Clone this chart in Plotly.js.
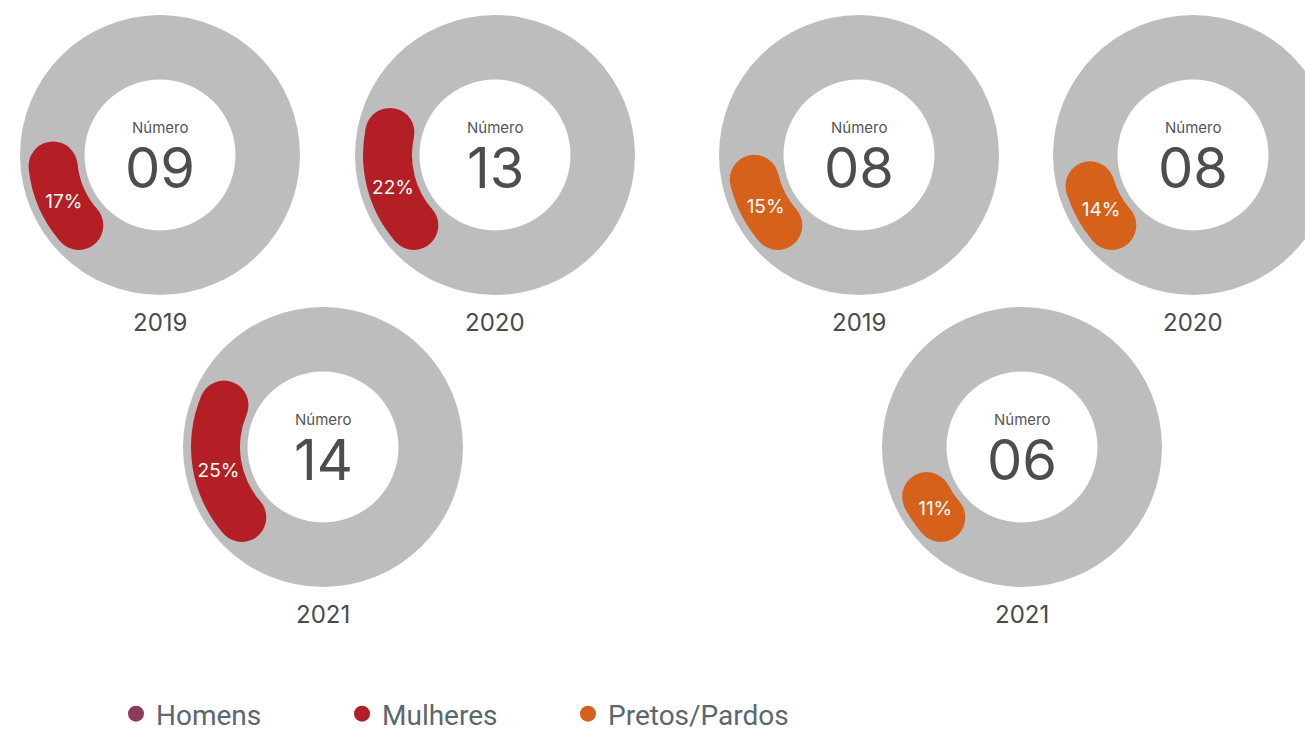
<!DOCTYPE html>
<html>
<head>
<meta charset="utf-8">
<script src="https://cdn.plot.ly/plotly-3.0.1.min.js"></script>
<style>
  html, body { margin: 0; padding: 0; background: #fff; overflow: hidden; }
  #chart { width: 1340px; height: 760px; }
</style>
</head>
<body>
<div id="chart"></div>
<script>
// Data
const years = ['2019', '2020', '2021'];
const mulheresPct = [17, 22, 25];
const mulheresNum = ['09', '13', '14'];
const pretosPct = [15, 14, 11];
const pretosNum = ['08', '08', '06'];
const legendNames = ['Homens', 'Mulheres', 'Pretos/Pardos'];
const legendColors = ['#8b3a5e', '#b31f25', '#d5611b'];

// Geometry (px). The figure is a bit larger than the window and gets cropped,
// so the right-hand donut can run off the edge and the legend doesn't push margins.
const W = 1340, H = 760;
const OUTER = 140, HOLE = 75.5;
const BAND_IN = 83, BAND_OUT = 132;
const BAND_MID = (BAND_IN + BAND_OUT) / 2;
const CAP_DEG = ((BAND_OUT - BAND_IN) / 2 / BAND_MID) * 180 / Math.PI;
const ARC_END = 216;   // where every coloured arc stops (clockwise from 12 o'clock)
const GRAY = '#bdbdbd';

const centers = [[160, 155], [495, 155], [323, 447], [859, 155], [1193, 155], [1022, 447]];
const legendX = [136, 362, 588];

const donuts = [];
years.forEach((y, i) => donuts.push({ year: y, pct: mulheresPct[i], num: mulheresNum[i], color: legendColors[1] }));
years.forEach((y, i) => donuts.push({ year: y, pct: pretosPct[i], num: pretosNum[i], color: legendColors[2] }));

const traces = [];
const layout = {
    width: W,
    height: H,
    margin: { l: 0, r: 0, t: 0, b: 0 },
    paper_bgcolor: '#fff',
    showlegend: true,
    annotations: []
};

// one legend per entry so each sits at its own spot
legendNames.forEach((name, i) => {
    const key = i === 0 ? 'legend' : 'legend' + (i + 1);
    layout[key] = {
        orientation: 'h',
        x: (legendX[i] - 20) / W,
        xanchor: 'left',
        y: 1 - 714 / H,
        yanchor: 'middle',
        font: { family: 'Roboto, sans-serif', size: 28, color: '#5b6770' },
        bgcolor: 'rgba(0,0,0,0)'
    };
});

function label(cx, y, text, size, color) {
    return {
        x: cx / W, y: 1 - y / H, xref: 'paper', yref: 'paper',
        xanchor: 'center', yanchor: 'middle',
        text: text, showarrow: false,
        font: { family: 'Inter, sans-serif', size: size, color: color }
    };
}

donuts.forEach((d, k) => {
    const [cx, cy] = centers[k];
    const pid = k === 0 ? 'polar' : 'polar' + (k + 1);
    const span = d.pct / 100 * 360;

    layout[pid] = {
        domain: {
            x: [(cx - OUTER) / W, (cx + OUTER) / W],
            y: [1 - (cy + OUTER) / H, 1 - (cy - OUTER) / H]
        },
        hole: HOLE / OUTER,
        bgcolor: GRAY,
        radialaxis: { range: [HOLE, OUTER], visible: false },
        angularaxis: { rotation: 90, direction: 'clockwise', visible: false }
    };

    // coloured band
    traces.push({
        type: 'barpolar',
        subplot: pid,
        r: [BAND_OUT - BAND_IN],
        base: [BAND_IN],
        theta: [ARC_END + span / 2],
        width: [span - 2 * CAP_DEG],
        marker: { color: d.color, line: { width: 0 } },
        showlegend: false,
        hoverinfo: 'skip'
    });
    // round caps
    traces.push({
        type: 'scatterpolar',
        subplot: pid,
        mode: 'markers',
        r: [BAND_MID, BAND_MID],
        theta: [ARC_END + CAP_DEG, ARC_END + span - CAP_DEG],
        marker: { color: d.color, size: BAND_OUT - BAND_IN, line: { width: 0 } },
        showlegend: false,
        hoverinfo: 'skip'
    });
    // percent label
    traces.push({
        type: 'scatterpolar',
        subplot: pid,
        mode: 'text',
        r: [BAND_MID],
        theta: [ARC_END + span * 0.45],
        text: [d.pct + '%'],
        textfont: { family: 'Inter, sans-serif', size: 19, color: '#fff' },
        showlegend: false,
        hoverinfo: 'skip'
    });

    const dy = cy - 155;
    layout.annotations.push(
        label(cx, 127 + dy, 'Número', 15, '#555'),
        label(cx, 168 + dy, d.num, 56, '#4d4d4d'),
        label(cx, 322 + dy, d.year, 24, '#4a4a4a')
    );
});

// legend entries
legendNames.forEach((name, i) => {
    traces.push({
        type: 'scatterpolar',
        subplot: 'polar',
        mode: 'markers',
        r: [null],
        theta: [null],
        name: name,
        legend: i === 0 ? 'legend' : 'legend' + (i + 1),
        marker: { color: legendColors[i], size: 22 },
        showlegend: true,
        hoverinfo: 'skip'
    });
});

Plotly.newPlot('chart', traces, layout, { staticPlot: true, displayModeBar: false });
</script>
</body>
</html>
